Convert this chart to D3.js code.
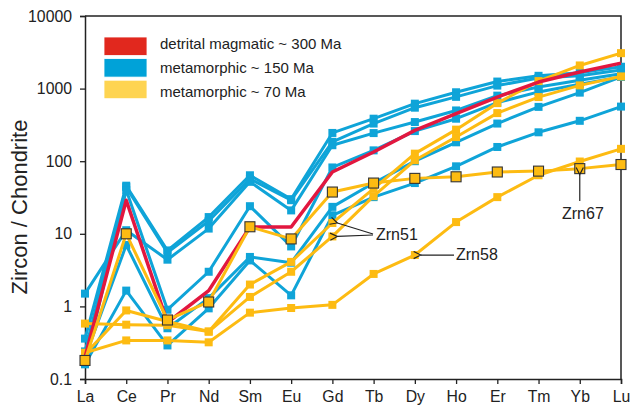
<!DOCTYPE html>
<html>
<head>
<meta charset="utf-8">
<script src="https://cdn.jsdelivr.net/npm/d3@7"></script>
<style>
  body { margin: 0; background: #fff; }
  text { font-family: "Liberation Sans", Arial, sans-serif; fill: #222; }
</style>
</head>
<body>
<div id="chart"></div>
<script>
// REE patterns, zircon normalised to chondrite

var elements = ["La", "Ce", "Pr", "Nd", "Sm", "Eu", "Gd", "Tb", "Dy", "Ho", "Er", "Tm", "Yb", "Lu"];
var yTicks = [0.1, 1, 10, 100, 1000, 10000];

// detrital magmatic ~300 Ma (red, no markers)
var detrital300 = [0.2, 29, 0.6, 1.65, 12.4, 12.4, 71, 134, 266, 452, 764, 1230, 1690, 2245];

// metamorphic ~150 Ma (blue)
var meta150_a = [0.36, 46, 5.9, 17, 64, 30, 245, 385, 620, 890, 1250, 1500, 1650, 2000];
var meta150_b = [0.24, 44, 5.5, 15, 57, 29, 185, 330, 546, 770, 1100, 1400, 1500, 1800];
var meta150_c = [1.5, 11.2, 4.4, 11.8, 52, 21, 166, 244, 346, 500, 800, 1050, 1300, 1600];
var meta150_d = [0.16, 40, 0.9, 3.0, 24, 6.7, 82, 141, 260, 385, 640, 900, 1150, 1450];
var meta150_e = [0.2, 7, 0.5, 1.3, 4.8, 4.0, 23.5, 50, 100, 182, 330, 560, 880, 1450];
var meta150_f = [0.16, 1.65, 0.29, 0.94, 4.3, 1.42, 18, 32, 50, 85, 157, 250, 360, 565];

// metamorphic ~70 Ma (yellow)
var zrn51_a = [0.22, 0.88, 0.62, 0.45, 2.0, 4.1, 14.1, 42, 127, 272, 631, 1268, 2084, 3077];
var zrn51_b = [0.58, 0.56, 0.55, 0.45, 1.35, 3.0, 9.2, 33, 103, 215, 460, 764, 1107, 1472];
var zrn58 = [0.23, 0.34, 0.34, 0.32, 0.82, 0.95, 1.05, 2.8, 5.1, 14.5, 32, 64, 99, 148];
var zrn67 = [0.18, 10, 0.65, 1.15, 12.5, 8.5, 37.6, 50, 58, 61, 71, 73, 79, 90];

var legendLabels = ["detrital magmatic ~ 300 Ma", "metamorphic ~ 150 Ma", "metamorphic ~ 70 Ma"];
var legendColors = ["#e1281e", "#00a2d8", "#fed451"];

var blue = "#0fa4d8", yellow = "#fdbb12", red = "#e2173f";

var w = 632, h = 411;
var plotL = 85, plotR = 621, plotT = 16, plotB = 379;

var svg = d3.select("#chart").append("svg")
    .attr("width", w)
    .attr("height", h);

var x = d3.scalePoint().domain(elements).range([plotL, plotR]);
var y = d3.scaleLog().domain([0.1, 10000]).range([plotB, plotT]);

var line = d3.line()
    .x(function(d, i) { return x(elements[i]); })
    .y(function(d) { return y(d); });

// frame
svg.append("path")
    .attr("d", "M" + plotL + "," + plotT + "H" + plotR + "V" + plotB)
    .attr("fill", "none")
    .attr("stroke", "#222")
    .attr("stroke-width", 1.5);

// axes
var yAxis = svg.append("g")
    .attr("transform", "translate(" + plotL + ",0)")
    .call(d3.axisLeft(y).tickValues(yTicks).tickFormat(d3.format("~g")).tickSizeOuter(0).tickSize(5).tickPadding(8));
var xAxis = svg.append("g")
    .attr("transform", "translate(0," + plotB + ")")
    .call(d3.axisBottom(x).tickSizeOuter(0).tickSize(5).tickPadding(7));

[yAxis, xAxis].forEach(function(a) {
  a.select(".domain").attr("stroke", "#222").attr("stroke-width", 1.5);
  a.selectAll(".tick line").attr("stroke", "#222").attr("stroke-width", 1.3);
  a.selectAll("text").attr("font-size", 15.8).attr("fill", "#222")
      .attr("font-family", "'Liberation Sans', Arial, sans-serif");
});

svg.append("text")
    .attr("transform", "translate(27,207) rotate(-90)")
    .attr("text-anchor", "middle")
    .attr("font-size", 22)
    .text("Zircon / Chondrite");

function drawSeries(data, color, width, marker, outline) {
  var g = svg.append("g");
  g.append("path")
      .datum(data)
      .attr("d", line)
      .attr("fill", "none")
      .attr("stroke", color)
      .attr("stroke-width", width)
      .attr("stroke-linejoin", "round");
  if (!marker) return;
  g.selectAll("rect")
      .data(data)
      .enter()
      .append("rect")
      .attr("x", function(d, i) { return x(elements[i]) - marker / 2; })
      .attr("y", function(d) { return y(d) - marker / 2; })
      .attr("width", marker)
      .attr("height", marker)
      .attr("fill", color)
      .attr("stroke", outline ? "#333" : "none")
      .attr("stroke-width", outline ? 1.1 : 0);
}

[meta150_a, meta150_b, meta150_c, meta150_d, meta150_e, meta150_f].forEach(function(s) {
  drawSeries(s, blue, 3, 8, false);
});
[zrn51_a, zrn51_b, zrn58].forEach(function(s) {
  drawSeries(s, yellow, 3, 8, false);
});
drawSeries(detrital300, red, 3.5, 0, false);
drawSeries(zrn67, yellow, 3, 10, true);

// legend
var leg = svg.append("g");
legendLabels.forEach(function(t, i) {
  leg.append("rect")
      .attr("x", 104).attr("y", 37 + i * 21.6)
      .attr("width", 43).attr("height", 18.5)
      .attr("fill", legendColors[i])
      .attr("stroke", "#fff").attr("stroke-width", 0.8);
  leg.append("text")
      .attr("x", 160).attr("y", 48.5 + i * 24)
      .attr("font-size", 15)
      .text(t);
});

// annotations
svg.append("defs").append("marker")
    .attr("id", "arr")
    .attr("viewBox", "0 0 10 10")
    .attr("refX", 1).attr("refY", 5)
    .attr("markerWidth", 9).attr("markerHeight", 9)
    .attr("markerUnits", "userSpaceOnUse")
    .attr("orient", "auto-start-reverse")
    .append("path")
    .attr("d", "M9,1 L1,5 L9,9")
    .attr("fill", "none")
    .attr("stroke", "#222")
    .attr("stroke-width", 1.3);

function arrow(x1, y1, x2, y2) {
  svg.append("line")
      .attr("x1", x1).attr("y1", y1)
      .attr("x2", x2).attr("y2", y2)
      .attr("stroke", "#222")
      .attr("stroke-width", 1.2)
      .attr("marker-end", "url(#arr)");
}

var gx = x("Gd") + 5, yb = x("Yb"), dy = x("Dy") + 6;
arrow(373, 234, gx, y(zrn51_a[6]));
arrow(373, 235, gx, y(zrn51_b[6]));
arrow(454, y(zrn58[8]), dy, y(zrn58[8]));
arrow(yb, 201, yb, y(zrn67[12]) + 6);

svg.append("text").attr("x", 376).attr("y", 240).attr("font-size", 16).text("Zrn51");
svg.append("text").attr("x", 456).attr("y", 260).attr("font-size", 16).text("Zrn58");
svg.append("text").attr("x", 562).attr("y", 219).attr("font-size", 16).text("Zrn67");
</script>
</body>
</html>
